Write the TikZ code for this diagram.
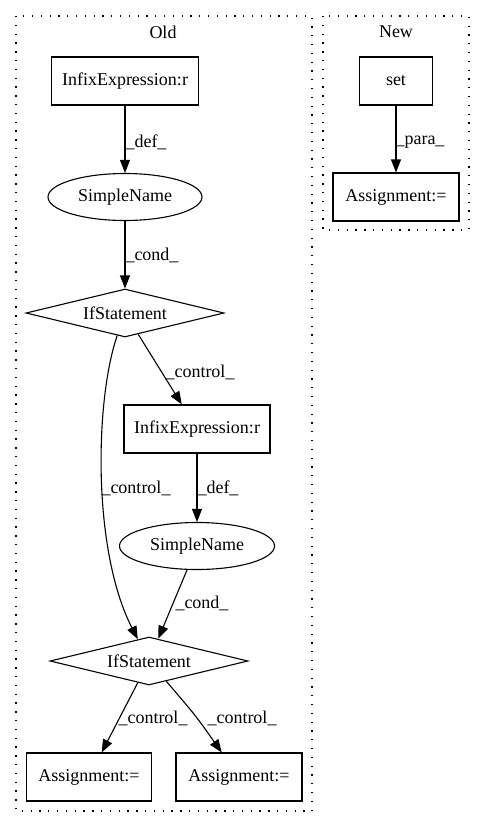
\documentclass[tikz,border=0pt]{standalone}
\usepackage{fontspec}
\setmainfont{Liberation Serif}
\usetikzlibrary{arrows.meta, shapes, positioning}

\begin{document}
\begin{tikzpicture}[
            x = 1pt, y = -1pt,
            every node/.style = {font=\fontsize{18pt}{21pt}\selectfont, inner sep=0pt},
            box/.style = {rectangle, draw, line width=1.1pt, minimum height=48pt},
            oval/.style = {ellipse, draw, line width=1.1pt, minimum width=154pt, minimum height=47pt},
            cond/.style = {diamond, draw, aspect=4, line width=1.1pt, minimum width=198pt, minimum height=48pt},
            flow/.style = {line width=1.1pt, -{Triangle[length=13pt, width=10pt]}},
            cluster/.style = {draw, line width=1.1pt, dash pattern=on 1.3pt off 7.5pt}
                                 ]
            \useasboundingbox (0,0) rectangle (485,828);
            \draw [cluster] (16,16) rectangle (312,811);
            \draw [cluster] (323,16) rectangle (469,230);
            \node (old) at (163,32) {Old};
            \node (new) at (396,32) {New};
            %
            \node [box, minimum width=147pt] (infa) at (125,81)  {InfixExpression:r};
            \node [oval]                     (sna)  at (125,197) {SimpleName};
            \node [cond]                     (ifa)  at (125,313) {IfStatement};
            \node [box, minimum width=146pt] (infb) at (197,429) {InfixExpression:r};
            \node [oval, minimum width=155pt] (snb) at (197,546) {SimpleName};
            \node [cond]                     (ifb)  at (149,661) {IfStatement};
            \node [box, minimum width=125pt] (assa) at (89,777)  {Assignment:=};
            \node [box, minimum width=126pt] (assb) at (239,777) {Assignment:=};
            \node [box, minimum width=73pt]  (set)  at (396,81)  {set};
            \node [box, minimum width=126pt] (assc) at (396,197) {Assignment:=};
            %
            \draw [flow] (infa) -- (sna);
            \draw [flow] (sna) -- (ifa);
            \draw [flow] (ifa) -- (infb);
            \draw [flow] (ifa) .. controls (95,400) and (92,550) .. (ifb);
            \draw [flow] (infb) -- (snb);
            \draw [flow] (snb) -- (ifb);
            \draw [flow] (ifb) -- (assa);
            \draw [flow] (ifb) .. controls (196,716) .. (assb);
            \draw [flow] (set) -- (assc);
            %
            \node (la) at (146,142) {\_def\_};
            \node (lb) at (152,255) {\_cond\_};
            \node (lc) at (200,372) {\_control\_};
            \node (ld) at (136,488) {\_control\_};
            \node (le) at (218,488) {\_def\_};
            \node (lf) at (202,603) {\_cond\_};
            \node (lg) at (153,718) {\_control\_};
            \node (lh) at (242,718) {\_control\_};
            \node (li) at (420,142) {\_para\_};
    \end{tikzpicture}
\end{document}
